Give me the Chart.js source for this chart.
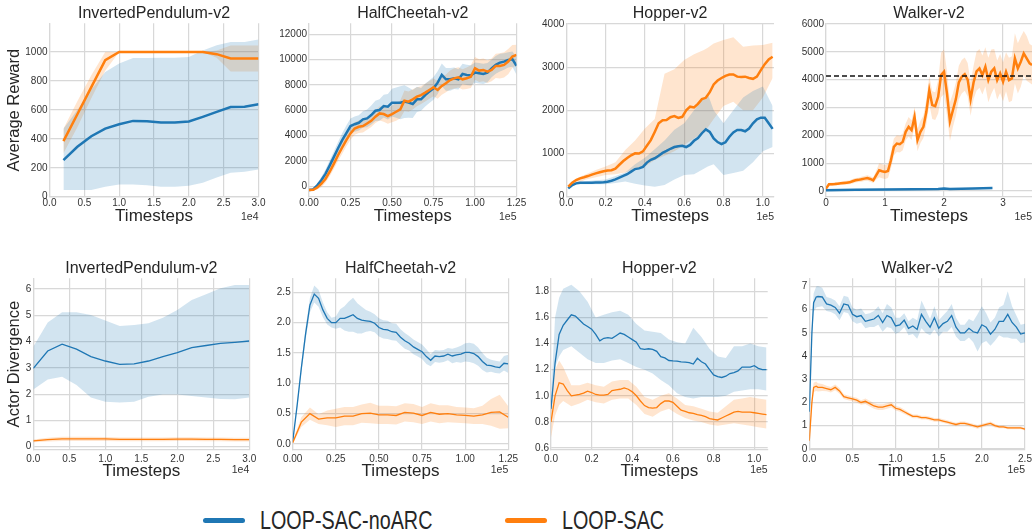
<!DOCTYPE html>
<html>
<head>
<meta charset="utf-8">
<script src="https://cdn.jsdelivr.net/npm/chart.js@4.4.0/dist/chart.umd.min.js"></script>
<style>
html, body { margin: 0; padding: 0; background: #fff; }
body { width: 1032px; height: 531px; position: relative; overflow: hidden; font-family: "Liberation Sans", Arial, sans-serif; }
.panel { position: absolute; }
.sw { position: absolute; height: 5px; width: 42px; border-radius: 3px; top: 517.5px; }
.lt { position: absolute; top: 505px; font-size: 26px; line-height: 30px; color: #262626; transform: scaleX(0.76); transform-origin: 0 50%; white-space: nowrap; }
</style>
</head>
<body>
<span class="sw" style="left:203px;background:#1f77b4"></span>
<span class="lt" style="left:260px">LOOP-SAC-noARC</span>
<span class="sw" style="left:505px;background:#ff7f0e"></span>
<span class="lt" style="left:562px">LOOP-SAC</span>
<script>
// ---- tick labels ----
const ipXTicks = ['0.0', '0.5', '1.0', '1.5', '2.0', '2.5', '3.0'];
const hcXTicks = ['0.00', '0.25', '0.50', '0.75', '1.00', '1.25'];
const hopXTicks = ['0.0', '0.2', '0.4', '0.6', '0.8', '1.0'];
const wkTopXTicks = ['0', '1', '2', '3'];
const wkBotXTicks = ['0.0', '0.5', '1.0', '1.5', '2.0', '2.5'];
const ipTopYTicks = ['0', '200', '400', '600', '800', '1000'];
const hcTopYTicks = ['0', '2000', '4000', '6000', '8000', '10000', '12000'];
const hopTopYTicks = ['0', '1000', '2000', '3000', '4000'];
const wkTopYTicks = ['0', '1000', '2000', '3000', '4000', '5000', '6000'];
const ipBotYTicks = ['0', '1', '2', '3', '4', '5', '6'];
const hcBotYTicks = ['0.0', '0.5', '1.0', '1.5', '2.0', '2.5'];
const hopBotYTicks = ['0.6', '0.8', '1.0', '1.2', '1.4', '1.6', '1.8'];
const wkBotYTicks = ['0', '1', '2', '3', '4', '5', '6', '7'];

// ---- InvertedPendulum, reward (x in 1e4) ----
const ipTopX = [0.2, 0.4, 0.6, 0.8, 1.0, 1.2, 1.4, 1.6, 1.8, 2.0, 2.2, 2.4, 2.6, 2.8, 3.0];
const ipTopBlue = [253, 345, 418, 471, 501, 524, 522, 513, 513, 520, 552, 586, 620, 621, 639];
const ipTopBlueLo = [46, 46, 46, 69, 85, 85, 80, 69, 69, 76, 97, 133, 166, 172, 188];
const ipTopBlueHi = [470, 600, 740, 862, 920, 959, 959, 961, 961, 966, 1011, 1046, 1069, 1069, 1087];
const ipTopOrange = [384, 570, 757, 943, 1000, 1000, 1000, 1000, 1000, 1000, 1000, 985, 955, 955, 955];
const ipTopOrangeLo = [300, 480, 680, 870, 1000, 1000, 1000, 1000, 1000, 1000, 1000, 960, 865, 865, 865];
const ipTopOrangeHi = [470, 660, 840, 1000, 1000, 1000, 1000, 1000, 1000, 1000, 1000, 1010, 1045, 1045, 1045];

// ---- HalfCheetah, reward (x in 1e5) ----
const hcTopX = [0, 0.025, 0.05, 0.075, 0.1, 0.125, 0.15, 0.175, 0.2, 0.225, 0.25, 0.275, 0.3, 0.325, 0.35, 0.375, 0.4, 0.425, 0.45, 0.475, 0.5, 0.525, 0.55, 0.575, 0.6, 0.625, 0.65, 0.675, 0.7, 0.725, 0.75, 0.775, 0.8, 0.825, 0.85, 0.875, 0.9, 0.925, 0.95, 0.975, 1.0, 1.025, 1.05, 1.075, 1.1, 1.125, 1.15, 1.175, 1.2, 1.225, 1.25];
const hcTopBlue = [-300, -250, 80, 500, 1000, 1650, 2320, 3000, 3640, 4200, 4750, 4900, 5010, 5280, 5360, 5620, 5960, 6020, 6330, 6280, 6600, 6600, 6600, 6680, 6600, 6490, 6860, 6860, 7200, 7470, 7730, 8180, 8790, 8440, 8440, 8520, 8440, 8870, 8790, 8760, 8970, 8920, 8870, 8970, 9310, 9580, 9760, 9840, 9970, 10030, 9500];
const hcTopBlueSpread = [100, 100, 150, 250, 350, 400, 450, 500, 550, 600, 600, 600, 600, 650, 700, 750, 800, 850, 900, 1000, 1100, 1200, 1300, 1300, 1200, 1100, 1000, 900, 900, 900, 900, 900, 900, 900, 900, 850, 800, 800, 800, 800, 800, 800, 800, 750, 700, 700, 700, 650, 600, 600, 700];
const hcTopOrange = [-300, -280, -100, 200, 600, 1150, 1790, 2450, 3060, 3650, 4170, 4560, 4700, 4750, 4960, 5170, 5490, 5750, 5700, 5540, 5700, 5880, 6070, 6750, 6680, 6860, 7070, 7200, 7390, 7600, 7810, 7600, 7920, 8130, 8390, 8520, 8600, 8440, 8520, 8650, 9310, 9130, 9180, 9050, 9180, 9500, 9500, 9580, 9840, 10240, 10370];
const hcTopOrangeSpread = [100, 100, 150, 250, 300, 350, 400, 450, 500, 500, 500, 500, 500, 500, 500, 500, 500, 550, 600, 600, 650, 700, 700, 800, 800, 800, 750, 700, 700, 700, 700, 700, 700, 700, 750, 800, 800, 800, 850, 900, 900, 900, 900, 900, 900, 950, 1000, 1000, 1000, 900, 800];

// ---- Hopper, reward (x in 1e5) ----
const hopTopX = [0.01, 0.03, 0.05, 0.07, 0.09, 0.11, 0.13, 0.15, 0.17, 0.19, 0.21, 0.23, 0.25, 0.27, 0.29, 0.31, 0.33, 0.35, 0.37, 0.39, 0.41, 0.43, 0.45, 0.47, 0.49, 0.51, 0.53, 0.55, 0.57, 0.59, 0.61, 0.63, 0.65, 0.67, 0.69, 0.71, 0.73, 0.75, 0.77, 0.79, 0.81, 0.83, 0.85, 0.87, 0.89, 0.91, 0.93, 0.95, 0.97, 0.99, 1.01, 1.03, 1.05];
const hopTopBlue = [193, 270, 309, 324, 324, 324, 324, 326, 330, 335, 345, 370, 400, 440, 480, 520, 580, 640, 656, 690, 790, 855, 890, 950, 1015, 1060, 1110, 1150, 1170, 1181, 1150, 1200, 1295, 1360, 1470, 1560, 1500, 1350, 1265, 1220, 1260, 1390, 1490, 1545, 1545, 1515, 1580, 1700, 1790, 1830, 1830, 1700, 1570];
const hopTopOrange = [232, 324, 386, 425, 450, 478, 510, 540, 565, 590, 605, 612, 650, 740, 826, 896, 958, 1005, 1000, 1050, 1180, 1310, 1500, 1700, 1770, 1775, 1840, 1865, 1825, 1850, 2000, 2085, 2069, 2150, 2260, 2290, 2420, 2600, 2690, 2750, 2800, 2830, 2830, 2780, 2770, 2780, 2750, 2730, 2780, 2930, 3070, 3180, 3240];
const hopTopBandX = [0.01, 0.05, 0.1, 0.15, 0.2, 0.25, 0.3, 0.35, 0.4, 0.45, 0.5, 0.55, 0.6, 0.65, 0.7, 0.72, 0.75, 0.8, 0.85, 0.9, 0.95, 1.0, 1.05];
const hopTopBlueLo = [160, 290, 290, 290, 290, 320, 350, 300, 260, 230, 270, 400, 500, 520, 650, 700, 750, 500, 550, 600, 800, 1050, 1150];
const hopTopBlueHi = [230, 330, 360, 380, 400, 480, 560, 750, 900, 1100, 1300, 1550, 1700, 2000, 2300, 2380, 2000, 1700, 2000, 2300, 2450, 2550, 2100];
const hopTopOrangeLo = [200, 300, 400, 450, 500, 520, 560, 650, 700, 850, 950, 1050, 1200, 1350, 1500, 1600, 1800, 2100, 2200, 2000, 2000, 2300, 2750];
const hopTopOrangeHi = [260, 420, 520, 620, 700, 800, 1080, 1300, 1580, 1800, 2850, 2950, 3166, 3300, 3398, 3450, 3550, 3629, 3690, 3475, 3500, 3514, 3568];

// ---- Walker, reward (x in 1e5) ----
const wkTopX = [0, 0.05, 0.1, 0.15, 0.2, 0.25, 0.3, 0.35, 0.4, 0.45, 0.5, 0.55, 0.6, 0.65, 0.7, 0.75, 0.8, 0.85, 0.9, 0.95, 1.0, 1.05, 1.1, 1.15, 1.2, 1.25, 1.3, 1.35, 1.4, 1.45, 1.5, 1.55, 1.6, 1.65, 1.7, 1.75, 1.8, 1.85, 1.9, 1.95, 2.0, 2.05, 2.1, 2.15, 2.2, 2.25, 2.3, 2.35, 2.4, 2.45, 2.5, 2.55, 2.6, 2.65, 2.7, 2.75, 2.8, 2.85, 2.9, 2.95, 3.0, 3.05, 3.1, 3.15, 3.2, 3.25, 3.3, 3.35, 3.4, 3.45, 3.49];
const wkTopOrange = [84, 240, 240, 250, 264, 276, 288, 300, 312, 350, 384, 400, 420, 445, 468, 432, 384, 564, 744, 708, 684, 720, 1104, 1585, 1705, 1681, 1765, 2125, 2305, 2185, 2665, 1825, 2125, 2305, 2845, 3625, 3085, 3050, 3385, 4166, 4286, 3500, 2500, 2900, 3300, 3900, 4106, 4200, 4000, 3300, 3900, 4300, 4406, 4166, 4466, 3986, 4286, 4406, 3986, 4226, 3926, 4286, 3986, 4046, 4766, 4406, 4646, 4946, 4766, 4586, 4526];
const wkTopOrangeSpread = [40, 60, 60, 60, 60, 60, 70, 70, 70, 80, 80, 80, 90, 90, 100, 100, 100, 150, 250, 250, 250, 250, 300, 300, 300, 300, 300, 300, 350, 350, 350, 400, 400, 400, 450, 500, 500, 500, 600, 800, 800, 800, 700, 600, 600, 600, 600, 600, 600, 600, 600, 700, 700, 700, 700, 800, 800, 700, 700, 700, 700, 700, 800, 800, 900, 900, 900, 800, 800, 700, 700];
const wkTopBlueX = [0, 0.5, 1.0, 1.5, 1.9, 2.0, 2.1, 2.5, 2.82];
const wkTopBlue = [30, 45, 55, 60, 75, 90, 70, 90, 105];
const wkTopBlueSpread = [25, 25, 25, 25, 25, 25, 25, 25, 25];
const wkTopRef = 4130;

// ---- InvertedPendulum, actor divergence ----
const ipBotX = [0, 0.2, 0.4, 0.6, 0.8, 1.0, 1.2, 1.4, 1.6, 1.8, 2.0, 2.2, 2.4, 2.6, 2.8, 3.0];
const ipBotBlue = [2.98, 3.64, 3.90, 3.71, 3.43, 3.26, 3.13, 3.15, 3.26, 3.43, 3.58, 3.77, 3.85, 3.93, 3.97, 4.02];
const ipBotBlueLo = [2.18, 2.56, 2.66, 2.35, 1.87, 1.71, 1.68, 1.71, 1.90, 1.99, 1.99, 1.93, 1.87, 1.81, 1.80, 1.87];
const ipBotBlueHi = [3.80, 4.72, 5.11, 5.11, 5.01, 4.80, 4.59, 4.63, 4.70, 4.91, 5.20, 5.58, 5.80, 6.03, 6.15, 6.15];
const ipBotOrange = [0.22, 0.27, 0.30, 0.30, 0.30, 0.30, 0.28, 0.28, 0.28, 0.28, 0.29, 0.29, 0.28, 0.28, 0.27, 0.27];
const ipBotOrangeLo = [0.17, 0.20, 0.22, 0.22, 0.22, 0.22, 0.21, 0.21, 0.21, 0.21, 0.22, 0.22, 0.21, 0.21, 0.20, 0.20];
const ipBotOrangeHi = [0.27, 0.34, 0.38, 0.38, 0.38, 0.37, 0.35, 0.35, 0.35, 0.35, 0.36, 0.36, 0.35, 0.35, 0.34, 0.34];

// ---- HalfCheetah, actor divergence ----
const hcBotX = hcTopX;
const hcBotBlue = [0.04, 0.62, 1.25, 1.82, 2.29, 2.47, 2.40, 2.21, 2.07, 2.00, 2.00, 2.07, 2.07, 2.10, 2.13, 2.07, 2.04, 2.03, 2.02, 1.99, 1.92, 1.89, 1.88, 1.85, 1.84, 1.76, 1.70, 1.66, 1.60, 1.56, 1.52, 1.44, 1.38, 1.45, 1.44, 1.45, 1.48, 1.45, 1.47, 1.48, 1.51, 1.51, 1.49, 1.44, 1.36, 1.30, 1.29, 1.27, 1.26, 1.33, 1.32];
const hcBotBlueSpread = [0.02, 0.05, 0.08, 0.10, 0.12, 0.14, 0.14, 0.12, 0.10, 0.08, 0.10, 0.15, 0.20, 0.25, 0.28, 0.25, 0.22, 0.18, 0.16, 0.15, 0.15, 0.15, 0.15, 0.14, 0.14, 0.13, 0.13, 0.12, 0.12, 0.12, 0.12, 0.12, 0.10, 0.10, 0.10, 0.10, 0.10, 0.12, 0.12, 0.14, 0.15, 0.16, 0.16, 0.15, 0.14, 0.12, 0.10, 0.10, 0.10, 0.12, 0.15];
const hcBotOrangeX = [0, 0.05, 0.1, 0.15, 0.2, 0.25, 0.3, 0.35, 0.4, 0.45, 0.5, 0.55, 0.6, 0.65, 0.7, 0.75, 0.8, 0.85, 0.9, 0.95, 1.0, 1.05, 1.1, 1.15, 1.2, 1.25];
const hcBotOrange = [0.02, 0.36, 0.50, 0.41, 0.43, 0.43, 0.46, 0.46, 0.50, 0.51, 0.48, 0.48, 0.47, 0.52, 0.51, 0.47, 0.52, 0.49, 0.50, 0.48, 0.47, 0.46, 0.48, 0.52, 0.53, 0.44];
const hcBotOrangeSpread = [0.02, 0.08, 0.10, 0.08, 0.12, 0.15, 0.15, 0.15, 0.15, 0.17, 0.15, 0.15, 0.15, 0.15, 0.15, 0.14, 0.15, 0.15, 0.14, 0.13, 0.13, 0.13, 0.15, 0.22, 0.28, 0.18];

// ---- Hopper, actor divergence ----
const hopBotX = [0, 0.02, 0.04, 0.06, 0.08, 0.1, 0.12, 0.14, 0.16, 0.18, 0.2, 0.22, 0.24, 0.26, 0.28, 0.3, 0.32, 0.34, 0.36, 0.38, 0.4, 0.42, 0.44, 0.46, 0.48, 0.5, 0.52, 0.54, 0.56, 0.58, 0.6, 0.62, 0.64, 0.66, 0.68, 0.7, 0.72, 0.74, 0.76, 0.78, 0.8, 0.82, 0.84, 0.86, 0.88, 0.9, 0.92, 0.94, 0.96, 0.98, 1.0, 1.02, 1.04, 1.06];
const hopBotBlue = [0.90, 1.25, 1.47, 1.54, 1.58, 1.62, 1.61, 1.58, 1.55, 1.53, 1.51, 1.47, 1.42, 1.44, 1.445, 1.44, 1.46, 1.48, 1.47, 1.45, 1.43, 1.41, 1.36, 1.355, 1.36, 1.355, 1.34, 1.30, 1.29, 1.27, 1.267, 1.265, 1.26, 1.257, 1.254, 1.243, 1.287, 1.26, 1.243, 1.20, 1.16, 1.146, 1.14, 1.15, 1.17, 1.177, 1.19, 1.22, 1.22, 1.22, 1.23, 1.21, 1.20, 1.20];
const hopBotOrange = [0.80, 1.00, 1.10, 1.09, 1.04, 1.00, 1.005, 1.01, 1.02, 1.035, 1.025, 1.01, 1.005, 1.005, 1.01, 1.04, 1.045, 1.05, 1.06, 1.05, 1.03, 1.00, 0.96, 0.925, 0.91, 0.905, 0.91, 0.94, 0.96, 0.96, 0.95, 0.92, 0.89, 0.88, 0.87, 0.865, 0.855, 0.85, 0.84, 0.825, 0.82, 0.815, 0.83, 0.845, 0.86, 0.875, 0.88, 0.875, 0.875, 0.875, 0.87, 0.865, 0.86, 0.855];
const hopBotBandX = [0, 0.02, 0.04, 0.06, 0.1, 0.14, 0.18, 0.22, 0.26, 0.3, 0.34, 0.38, 0.42, 0.46, 0.5, 0.54, 0.58, 0.62, 0.66, 0.7, 0.74, 0.78, 0.82, 0.86, 0.9, 0.94, 0.98, 1.02, 1.06];
const hopBotBlueLo = [0.85, 1.22, 1.30, 1.35, 1.38, 1.33, 1.28, 1.25, 1.25, 1.27, 1.28, 1.25, 1.22, 1.20, 1.17, 1.12, 1.08, 1.02, 0.99, 0.98, 0.99, 0.99, 0.99, 1.00, 1.03, 1.04, 1.05, 1.05, 1.04];
const hopBotBlueHi = [1.00, 1.60, 1.75, 1.82, 1.85, 1.80, 1.72, 1.60, 1.62, 1.64, 1.65, 1.62, 1.55, 1.50, 1.49, 1.48, 1.43, 1.41, 1.40, 1.52, 1.45, 1.36, 1.30, 1.29, 1.38, 1.38, 1.40, 1.38, 1.37];
const hopBotOrangeLo = [0.68, 0.85, 0.93, 0.96, 0.92, 0.94, 0.97, 0.95, 0.94, 0.97, 0.98, 0.98, 0.93, 0.86, 0.84, 0.88, 0.90, 0.86, 0.83, 0.81, 0.80, 0.78, 0.77, 0.78, 0.79, 0.78, 0.77, 0.76, 0.75];
const hopBotOrangeHi = [0.92, 1.20, 1.27, 1.22, 1.08, 1.08, 1.10, 1.08, 1.07, 1.11, 1.12, 1.12, 1.07, 0.99, 0.97, 1.00, 1.02, 0.98, 0.93, 0.92, 0.90, 0.88, 0.87, 0.92, 0.97, 0.98, 0.99, 0.98, 0.97];

// ---- Walker, actor divergence ----
const wkBotX = [0, 0.03, 0.05, 0.08, 0.1, 0.15, 0.2, 0.25, 0.3, 0.35, 0.4, 0.45, 0.5, 0.55, 0.6, 0.65, 0.7, 0.75, 0.8, 0.85, 0.9, 0.95, 1.0, 1.05, 1.1, 1.15, 1.2, 1.25, 1.3, 1.35, 1.4, 1.45, 1.5, 1.55, 1.6, 1.65, 1.7, 1.75, 1.8, 1.85, 1.9, 1.95, 2.0, 2.05, 2.1, 2.15, 2.2, 2.25, 2.3, 2.35, 2.4, 2.45, 2.5];
const wkBotBlue = [1.6, 5.0, 6.3, 6.55, 6.57, 6.55, 6.25, 6.2, 6.1, 5.85, 6.25, 6.2, 5.8, 5.7, 5.75, 5.5, 5.55, 5.6, 5.75, 5.45, 5.75, 5.65, 5.3, 5.35, 5.55, 5.2, 5.3, 5.15, 5.8, 5.5, 5.25, 5.65, 5.2, 5.4, 5.5, 5.75, 5.25, 5.0, 5.0, 5.2, 5.05, 5.0, 5.35, 5.25, 4.95, 5.15, 5.5, 5.5, 5.8, 5.45, 5.25, 4.95, 5.0];
const wkBotBlueSpread = [0.2, 0.3, 0.4, 0.45, 0.45, 0.4, 0.3, 0.3, 0.3, 0.3, 0.35, 0.35, 0.3, 0.3, 0.3, 0.3, 0.3, 0.35, 0.4, 0.4, 0.5, 0.45, 0.35, 0.3, 0.3, 0.3, 0.35, 0.4, 0.6, 0.5, 0.35, 0.5, 0.35, 0.35, 0.45, 0.5, 0.4, 0.35, 0.35, 0.4, 0.45, 0.8, 0.8, 0.6, 0.5, 0.5, 0.6, 0.7, 1.0, 0.7, 0.5, 0.4, 0.4];
const wkBotOrange = [0.35, 2.0, 2.65, 2.7, 2.65, 2.65, 2.6, 2.55, 2.65, 2.5, 2.25, 2.2, 2.15, 2.1, 2.0, 2.05, 1.95, 1.85, 1.8, 1.8, 1.85, 1.9, 1.75, 1.7, 1.6, 1.5, 1.4, 1.4, 1.35, 1.35, 1.3, 1.25, 1.25, 1.2, 1.15, 1.1, 1.05, 1.1, 1.1, 1.05, 1.0, 0.95, 1.0, 1.05, 1.1, 1.0, 0.95, 0.95, 0.9, 0.9, 0.9, 0.9, 0.85];
const wkBotOrangeSpread = [0.1, 0.2, 0.2, 0.2, 0.18, 0.15, 0.12, 0.12, 0.12, 0.12, 0.1, 0.1, 0.1, 0.1, 0.1, 0.12, 0.12, 0.12, 0.12, 0.12, 0.12, 0.12, 0.1, 0.1, 0.1, 0.08, 0.08, 0.08, 0.08, 0.08, 0.08, 0.08, 0.08, 0.08, 0.08, 0.08, 0.08, 0.08, 0.08, 0.08, 0.08, 0.08, 0.08, 0.08, 0.08, 0.08, 0.06, 0.06, 0.06, 0.06, 0.06, 0.06, 0.06];

// ---- styling ----
const BLUE = '#1f77b4', ORANGE = '#ff7f0e';
const BLUE_BAND = 'rgba(31,119,180,0.2)', ORANGE_BAND = 'rgba(255,127,14,0.2)';
const GRID = '#d8d8d8';
Chart.defaults.font.family = '"Liberation Sans", Arial, sans-serif';

function pts(xs, ys) { return xs.map((x, i) => ({ x: x, y: ys[i] })); }
function shift(mean, spread, sign) { return mean.map((v, i) => v + sign * spread[i]); }
function line(xs, ys, color, w) {
  return { data: pts(xs, ys), borderColor: color, borderWidth: w, pointRadius: 0, fill: false };
}
function band(xs, lo, hi, color) {
  return [
    { data: pts(xs, lo), borderWidth: 0, borderColor: 'rgba(0,0,0,0)', pointRadius: 0, fill: false },
    { data: pts(xs, hi), borderWidth: 0, borderColor: 'rgba(0,0,0,0)', pointRadius: 0, fill: '-1', backgroundColor: color }
  ];
}

// the "1e4" / "1e5" multiplier under the x axis
const offsetText = {
  id: 'offsetText',
  afterDraw(chart, args, opts) {
    const a = chart.chartArea, ctx = chart.ctx;
    ctx.save();
    ctx.font = '10.5px "Liberation Sans", Arial, sans-serif';
    ctx.fillStyle = '#333';
    ctx.textAlign = 'right';
    ctx.textBaseline = 'middle';
    ctx.fillText(opts.text, a.right, a.bottom + 20);
    ctx.restore();
  }
};

function panel(s) {
  const top = s.row === 0 ? 2 : 257;
  const xh = s.row === 0 ? 32 : 34;
  const div = document.createElement('div');
  div.className = 'panel';
  div.style.left = s.left + 'px';
  div.style.top = top + 'px';
  div.style.width = (s.right - s.left) + 'px';
  div.style.height = '227px';
  const cv = document.createElement('canvas');
  div.appendChild(cv);
  document.body.appendChild(div);

  const axisW = s.plotL - s.left;
  const padR = s.right - s.plotR;
  const tickFont = { size: 10 };

  new Chart(cv, {
    type: 'line',
    data: { datasets: s.datasets },
    options: {
      responsive: true,
      maintainAspectRatio: false,
      animation: false,
      layout: { padding: { left: 0, top: 0, right: padR, bottom: 0 } },
      plugins: {
        legend: { display: false },
        tooltip: { enabled: false },
        title: { display: true, text: s.title, fullSize: false, color: '#262626', font: { size: 16, weight: 'normal' }, padding: { top: 2, bottom: 0 } },
        offsetText: { text: s.offset }
      },
      scales: {
        x: {
          type: 'linear', min: s.xmin, max: s.xmax,
          grid: { color: GRID, lineWidth: 1.2, drawTicks: false },
          border: { color: GRID, width: 1.2 },
          ticks: { font: tickFont, color: '#333', padding: s.row === 0 ? 0 : 3, autoSkip: false, maxRotation: 0, callback: (v, i) => s.xTicks[i] },
          title: { display: true, text: 'Timesteps', color: '#262626', font: { size: 17 }, padding: { top: 0, bottom: 2 } },
          afterBuildTicks: sc => { sc.ticks = s.xTicks.map(t => ({ value: parseFloat(t) })); },
          afterFit: sc => { sc.height = xh; sc.paddingLeft = 0; sc.paddingRight = 0; }
        },
        y: {
          min: s.ymin, max: s.ymax,
          grid: { color: GRID, lineWidth: 1.2, drawTicks: false },
          border: { color: GRID, width: 1.2 },
          ticks: { font: tickFont, color: '#333', padding: 2, autoSkip: false, callback: (v, i) => s.yTicks[i] },
          title: { display: !!s.yTitle, text: s.yTitle || '', color: '#262626', font: { size: 16.5 }, padding: { top: 0, bottom: 0 } },
          afterBuildTicks: sc => { sc.ticks = s.yTicks.map(t => ({ value: parseFloat(t) })); },
          afterFit: sc => { sc.width = axisW; sc.paddingTop = 0; sc.paddingBottom = 0; }
        }
      }
    },
    plugins: [offsetText]
  });
}

const TOPW = 2.5, BOTW = 1.3;

// top row: average reward
panel({
  row: 0, left: 5, plotL: 49.5, plotR: 258.5, right: 272,
  title: 'InvertedPendulum-v2', yTitle: 'Average Reward', offset: '1e4',
  xmin: 0, xmax: 3.0, ymin: -2, ymax: 1199, xTicks: ipXTicks, yTicks: ipTopYTicks,
  datasets: [
    line(ipTopX, ipTopOrange, ORANGE, TOPW),
    line(ipTopX, ipTopBlue, BLUE, TOPW),
    ...band(ipTopX, ipTopBlueLo, ipTopBlueHi, BLUE_BAND),
    ...band(ipTopX, ipTopOrangeLo, ipTopOrangeHi, ORANGE_BAND)
  ]
});
panel({
  row: 0, left: 269, plotL: 309, plotR: 516.5, right: 530,
  title: 'HalfCheetah-v2', offset: '1e5',
  xmin: 0, xmax: 1.25, ymin: -845, ymax: 12870, xTicks: hcXTicks, yTicks: hcTopYTicks,
  datasets: [
    line(hcTopX, hcTopOrange, ORANGE, TOPW),
    line(hcTopX, hcTopBlue, BLUE, TOPW),
    ...band(hcTopX, shift(hcTopBlue, hcTopBlueSpread, -1), shift(hcTopBlue, hcTopBlueSpread, 1), BLUE_BAND),
    ...band(hcTopX, shift(hcTopOrange, hcTopOrangeSpread, -1), shift(hcTopOrange, hcTopOrangeSpread, 1), ORANGE_BAND)
  ]
});
panel({
  row: 0, left: 526, plotL: 566.3, plotR: 774, right: 786,
  title: 'Hopper-v2', offset: '1e5',
  xmin: 0, xmax: 1.057, ymin: -7, ymax: 4018, xTicks: hopXTicks, yTicks: hopTopYTicks,
  datasets: [
    line(hopTopX, hopTopOrange, ORANGE, TOPW),
    line(hopTopX, hopTopBlue, BLUE, TOPW),
    ...band(hopTopBandX, hopTopBlueLo, hopTopBlueHi, BLUE_BAND),
    ...band(hopTopBandX, hopTopOrangeLo, hopTopOrangeHi, ORANGE_BAND)
  ]
});
panel({
  row: 0, left: 786, plotL: 826, plotR: 1032, right: 1032,
  title: 'Walker-v2', offset: '1e5',
  xmin: 0, xmax: 3.49, ymin: -216, ymax: 6030, xTicks: wkTopXTicks, yTicks: wkTopYTicks,
  datasets: [
    { data: pts([0, 3.49], [wkTopRef, wkTopRef]), borderColor: '#111', borderWidth: 1.5, borderDash: [5, 3], pointRadius: 0, fill: false },
    line(wkTopX, wkTopOrange, ORANGE, TOPW),
    line(wkTopBlueX, wkTopBlue, BLUE, TOPW),
    ...band(wkTopBlueX, shift(wkTopBlue, wkTopBlueSpread, -1), shift(wkTopBlue, wkTopBlueSpread, 1), BLUE_BAND),
    ...band(wkTopX, shift(wkTopOrange, wkTopOrangeSpread, -1), shift(wkTopOrange, wkTopOrangeSpread, 1), ORANGE_BAND)
  ]
});

// bottom row: actor divergence
panel({
  row: 1, left: 5, plotL: 33.3, plotR: 249.3, right: 262,
  title: 'InvertedPendulum-v2', yTitle: 'Actor Divergence', offset: '1e4',
  xmin: 0, xmax: 3.0, ymin: -0.126, ymax: 6.41, xTicks: ipXTicks, yTicks: ipBotYTicks,
  datasets: [
    line(ipBotX, ipBotOrange, ORANGE, BOTW),
    line(ipBotX, ipBotBlue, BLUE, BOTW),
    ...band(ipBotX, ipBotBlueLo, ipBotBlueHi, BLUE_BAND),
    ...band(ipBotX, ipBotOrangeLo, ipBotOrangeHi, ORANGE_BAND)
  ]
});
panel({
  row: 1, left: 253, plotL: 292.7, plotR: 508.3, right: 522,
  title: 'HalfCheetah-v2', offset: '1e5',
  xmin: 0, xmax: 1.25, ymin: -0.099, ymax: 2.732, xTicks: hcXTicks, yTicks: hcBotYTicks,
  datasets: [
    line(hcBotOrangeX, hcBotOrange, ORANGE, BOTW),
    line(hcBotX, hcBotBlue, BLUE, BOTW),
    ...band(hcBotX, shift(hcBotBlue, hcBotBlueSpread, -1), shift(hcBotBlue, hcBotBlueSpread, 1), BLUE_BAND),
    ...band(hcBotOrangeX, shift(hcBotOrange, hcBotOrangeSpread, -1), shift(hcBotOrange, hcBotOrangeSpread, 1), ORANGE_BAND)
  ]
});
panel({
  row: 1, left: 511, plotL: 551, plotR: 767.7, right: 780,
  title: 'Hopper-v2', offset: '1e5',
  xmin: 0, xmax: 1.066, ymin: 0.585, ymax: 1.90, xTicks: hopXTicks, yTicks: hopBotYTicks,
  datasets: [
    line(hopBotX, hopBotOrange, ORANGE, BOTW),
    line(hopBotX, hopBotBlue, BLUE, BOTW),
    ...band(hopBotBandX, hopBotBlueLo, hopBotBlueHi, BLUE_BAND),
    ...band(hopBotBandX, hopBotOrangeLo, hopBotOrangeHi, ORANGE_BAND)
  ]
});
panel({
  row: 1, left: 769, plotL: 809.3, plotR: 1025, right: 1032,
  title: 'Walker-v2', offset: '1e5',
  xmin: 0, xmax: 2.5, ymin: -0.05, ymax: 7.36, xTicks: wkBotXTicks, yTicks: wkBotYTicks,
  datasets: [
    line(wkBotX, wkBotOrange, ORANGE, BOTW),
    line(wkBotX, wkBotBlue, BLUE, BOTW),
    ...band(wkBotX, shift(wkBotBlue, wkBotBlueSpread, -1), shift(wkBotBlue, wkBotBlueSpread, 1), BLUE_BAND),
    ...band(wkBotX, shift(wkBotOrange, wkBotOrangeSpread, -1), shift(wkBotOrange, wkBotOrangeSpread, 1), ORANGE_BAND)
  ]
});
</script>
</body>
</html>
